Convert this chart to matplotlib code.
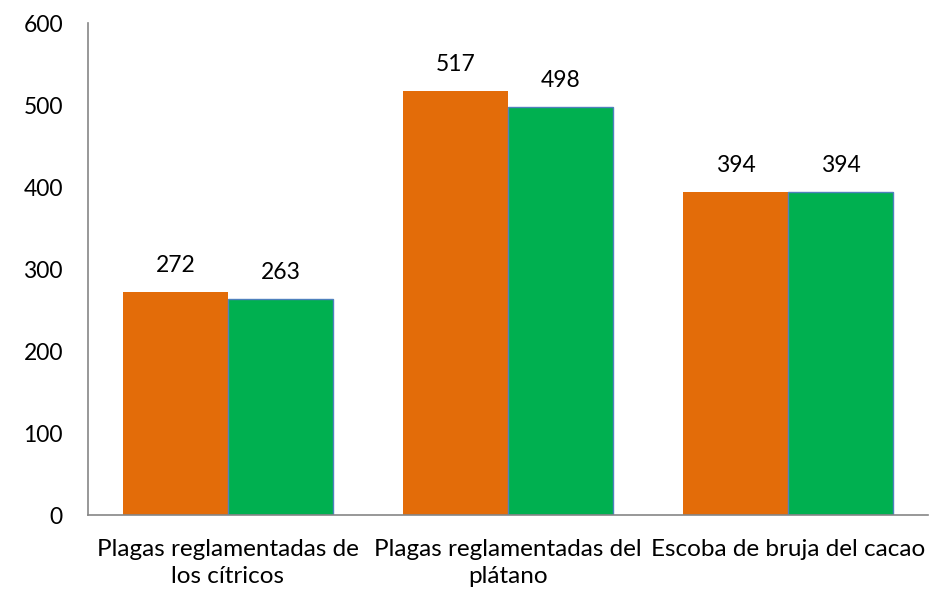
import matplotlib.pyplot as plt
import numpy as np

plt.rcParams['font.family'] = ['Lato', 'DejaVu Sans']

categories = ['Plagas reglamentadas de\nlos cítricos', 'Plagas reglamentadas del\nplátano', 'Escoba de bruja del cacao']
serie1 = [272, 517, 394]
serie2 = [263, 498, 394]
yticks = [0, 100, 200, 300, 400, 500, 600]

fig = plt.figure(figsize=(9.53, 5.99), dpi=100)
ax = fig.add_axes([0.0923, 0.1402, 0.8815, 0.8214])

x = np.arange(len(categories))
w = 0.375
b1 = ax.bar(x - w / 2, serie1, w, color='#E36C09', linewidth=0)
b2 = ax.bar(x + w / 2, serie2, w, color='#00B050', edgecolor='#4F81BD', linewidth=1)

for bars, vals in ((b1, serie1), (b2, serie2)):
    for r, v in zip(bars, vals):
        ax.annotate(str(v), (r.get_x() + r.get_width() / 2, v), xytext=(0, 19),
                    textcoords='offset points', ha='center', va='center', fontsize=16.5)

ax.set_xlim(-0.5, 2.5)
ax.set_ylim(0, 600)
ax.set_yticks(yticks)
ax.set_xticks(x)
ax.set_xticklabels(categories, fontsize=17.5, linespacing=1.4)
ax.tick_params(axis='y', length=0, labelsize=16.5, pad=18)
ax.tick_params(axis='x', length=0, pad=17)
for s in ['top', 'right']:
    ax.spines[s].set_visible(False)
for s in ['left', 'bottom']:
    ax.spines[s].set_color('#868686')
    ax.spines[s].set_linewidth(1.2)

fig.savefig('out.png', dpi=100)
